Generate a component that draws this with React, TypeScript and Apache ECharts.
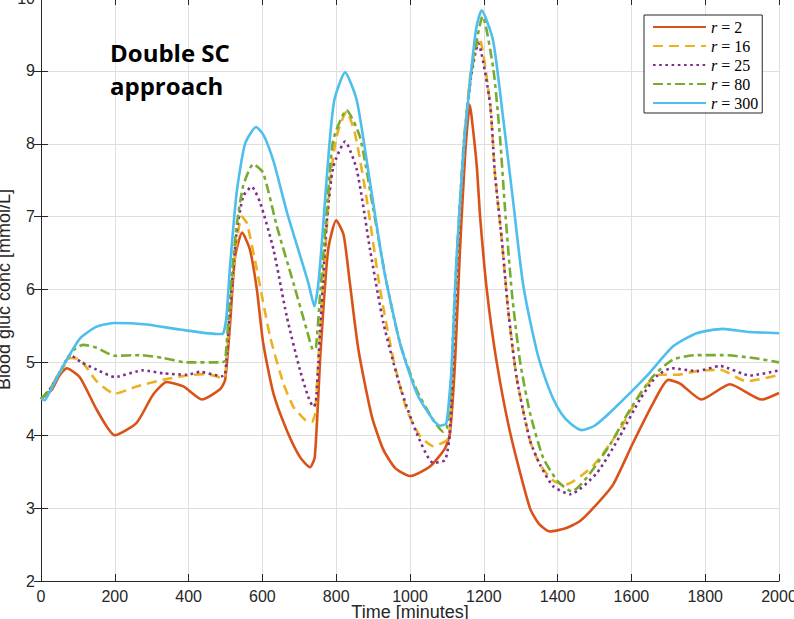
import React, { useEffect, useRef } from "react";
import * as echarts from "echarts";

// ---- data (time in minutes, blood glucose in mmol/L) ----
const xTicks = [0, 200, 400, 600, 800, 1000, 1200, 1400, 1600, 1800, 2000];
const yTicks = [2, 3, 4, 5, 6, 7, 8, 9, 10];

const tR2 = [0, 30, 50, 70, 106, 151, 200, 259, 304, 341, 386, 436, 485, 499, 512, 526, 545, 566, 585, 602, 630, 666, 702, 729, 742, 758, 778, 800, 820, 837, 860, 896, 927, 960, 1000, 1054, 1095, 1108, 1122, 1135, 1150, 1162, 1167, 1181, 1190, 1208, 1235, 1273, 1325, 1350, 1379, 1420, 1460, 1500, 1550, 1604, 1659, 1700, 1732, 1790, 1867, 1953, 2000];
const gR2 = [4.5, 4.63, 4.82, 4.92, 4.79, 4.35, 4.0, 4.17, 4.56, 4.73, 4.67, 4.49, 4.63, 4.76, 5.5, 6.45, 6.78, 6.55, 6.0, 5.27, 4.57, 4.07, 3.7, 3.56, 3.7, 5.18, 6.54, 6.95, 6.75, 6.09, 5.18, 4.27, 3.81, 3.55, 3.44, 3.57, 3.82, 4.02, 5.0, 6.5, 7.9, 8.53, 8.37, 7.69, 7.0, 6.0, 5.0, 4.0, 3.0, 2.78, 2.68, 2.72, 2.82, 3.02, 3.32, 3.89, 4.44, 4.76, 4.71, 4.49, 4.7, 4.49, 4.58];

const tR16 = [0, 24, 60, 79, 106, 151, 200, 259, 331, 395, 449, 490, 499, 512, 530, 544, 558, 585, 621, 657, 684, 716, 734, 743, 749, 765, 783, 801, 828, 851, 883, 919, 955, 991, 1027, 1063, 1099, 1108, 1120, 1133, 1147, 1165, 1188, 1217, 1230, 1249, 1266, 1289, 1325, 1352, 1388, 1420, 1496, 1569, 1631, 1677, 1723, 1777, 1840, 1912, 2000];
const gR16 = [4.5, 4.63, 4.93, 5.06, 5.04, 4.74, 4.57, 4.67, 4.76, 4.82, 4.84, 4.79, 4.8, 5.72, 6.64, 7.0, 6.91, 6.27, 5.35, 4.71, 4.39, 4.21, 4.18, 4.3, 4.8, 6.09, 7.45, 8.1, 8.44, 8.14, 7.23, 6.0, 5.04, 4.35, 3.99, 3.85, 3.93, 4.1, 5.5, 6.9, 8.0, 9.0, 9.45, 8.55, 7.6, 6.67, 5.72, 4.79, 3.93, 3.6, 3.38, 3.32, 3.58, 4.08, 4.63, 4.83, 4.83, 4.88, 4.9, 4.74, 4.83];

const tR25 = [0, 24, 60, 79, 110, 151, 200, 277, 331, 395, 431, 490, 499, 512, 530, 548, 571, 594, 630, 666, 702, 724, 738, 745, 756, 774, 792, 824, 856, 892, 928, 973, 1018, 1063, 1095, 1108, 1120, 1133, 1147, 1165, 1185, 1217, 1230, 1249, 1266, 1289, 1325, 1352, 1388, 1434, 1506, 1569, 1623, 1668, 1709, 1777, 1840, 1921, 2000];
const gR25 = [4.5, 4.63, 4.95, 5.1, 5.0, 4.9, 4.8, 4.89, 4.85, 4.83, 4.87, 4.81, 4.83, 5.72, 6.78, 7.28, 7.41, 7.19, 6.55, 5.63, 4.89, 4.53, 4.39, 4.45, 5.4, 6.9, 7.68, 8.03, 7.64, 6.54, 5.54, 4.67, 4.03, 3.62, 3.66, 4.02, 5.5, 6.9, 8.0, 8.9, 9.38, 8.55, 7.6, 6.67, 5.72, 4.79, 3.93, 3.6, 3.3, 3.19, 3.48, 3.99, 4.49, 4.81, 4.92, 4.88, 4.95, 4.82, 4.89];

const tR80 = [0, 24, 60, 88, 115, 151, 200, 268, 331, 395, 490, 499, 512, 530, 548, 575, 602, 639, 684, 720, 738, 745, 756, 774, 792, 828, 864, 901, 937, 973, 1018, 1063, 1090, 1100, 1110, 1120, 1133, 1147, 1167, 1197, 1226, 1244, 1257, 1276, 1298, 1325, 1361, 1402, 1438, 1533, 1596, 1659, 1713, 1777, 1848, 1930, 2000];
const gR80 = [4.5, 4.63, 4.95, 5.17, 5.24, 5.2, 5.09, 5.1, 5.06, 5.0, 5.0, 5.02, 5.9, 6.87, 7.42, 7.72, 7.6, 6.87, 6.09, 5.45, 5.17, 5.2, 5.9, 7.05, 8.05, 8.46, 8.1, 7.09, 6.08, 5.26, 4.62, 4.21, 4.05, 4.1, 4.6, 5.8, 7.0, 8.1, 9.0, 9.75, 9.02, 8.08, 7.14, 5.96, 5.02, 4.31, 3.69, 3.36, 3.23, 3.8, 4.35, 4.81, 5.04, 5.1, 5.1, 5.06, 5.0];

const tR300 = [0, 10, 24, 60, 106, 151, 200, 286, 377, 476, 492, 502, 512, 530, 553, 583, 603, 630, 666, 700, 725, 741, 752, 765, 780, 795, 824, 856, 892, 928, 973, 1018, 1063, 1081, 1098, 1106, 1113, 1125, 1136, 1149, 1167, 1180, 1194, 1225, 1252, 1279, 1306, 1343, 1365, 1388, 1410, 1435, 1465, 1500, 1550, 1641, 1713, 1777, 1848, 1912, 2000];
const gR300 = [4.5, 4.48, 4.6, 4.95, 5.33, 5.49, 5.54, 5.52, 5.45, 5.39, 5.39, 5.6, 6.3, 7.32, 8.0, 8.23, 8.12, 7.76, 7.07, 6.5, 6.08, 5.77, 6.1, 6.9, 7.9, 8.6, 8.98, 8.59, 7.46, 6.31, 5.26, 4.58, 4.21, 4.13, 4.16, 4.5, 4.95, 6.32, 7.23, 8.15, 9.06, 9.6, 9.83, 9.42, 8.37, 7.23, 6.09, 5.17, 4.8, 4.5, 4.3, 4.16, 4.07, 4.13, 4.35, 4.81, 5.22, 5.4, 5.46, 5.42, 5.4];

const seriesNames = ["r = 2", "r = 16", "r = 25", "r = 80", "r = 300"];
const seriesTimes = [tR2, tR16, tR25, tR80, tR300];
const seriesValues = [gR2, gR16, gR25, gR80, gR300];
const seriesColors = ["#D95319", "#EDB120", "#7E2F8E", "#77AC30", "#4DBEEE"];
const seriesDash: any[] = ["solid", [10, 6], [2.6, 3.6], [10, 4, 4, 4], "solid"];

const AX = "#262626";
const SANS = '"Liberation Sans", Arial, Helvetica, sans-serif';
const SERIF = '"Liberation Serif", "DejaVu Serif", serif';
const TITLE_FONT = 'bold 24px "Open Sans", sans-serif';

export default function App() {
  const ref = useRef<HTMLDivElement>(null);
  useEffect(() => {
    if (!ref.current) return;
    const chart = echarts.init(ref.current, null, { renderer: "svg" });
    const series = seriesNames.map((name, i) => ({
      name,
      type: "line",
      data: seriesTimes[i].map((t, k) => [t, seriesValues[i][k]]),
      showSymbol: false,
      symbol: "none",
      smooth: 0.2,
      lineStyle: { color: seriesColors[i], width: 2.6, type: seriesDash[i], cap: "butt" },
      itemStyle: { color: seriesColors[i] },
      z: 2 + i,
    }));
    const option: any = {
      animation: false,
      backgroundColor: "#ffffff",
      grid: { left: 41, right: 15, top: -2, bottom: 38, containLabel: false, outerBoundsMode: "none" },
      xAxis: [
        {
          type: "value",
          min: 0,
          max: 2000,
          interval: 200,
          position: "bottom",
          name: "Time [minutes]",
          nameLocation: "middle",
          nameGap: 22,
          nameMoveOverlap: false,
          nameTextStyle: { fontFamily: SANS, fontSize: 18, color: AX },
          axisLine: { show: true, lineStyle: { color: AX, width: 1 } },
          axisTick: { show: true, inside: true, length: 7, lineStyle: { color: AX } },
          axisLabel: { fontFamily: SANS, fontSize: 16, color: AX, margin: 7, hideOverlap: false, formatter: (v: number) => (xTicks.includes(v) ? String(v) : "") },
          splitLine: { show: true, lineStyle: { color: "#dfdfdf", width: 1 } },
        },
        {
          type: "value",
          min: 0,
          max: 2000,
          interval: 200,
          position: "top",
          axisLine: { show: true, lineStyle: { color: AX, width: 1 } },
          axisTick: { show: true, inside: true, length: 7, lineStyle: { color: AX } },
          axisLabel: { show: false },
          splitLine: { show: false },
        },
      ],
      yAxis: [
        {
          type: "value",
          min: 2,
          max: 10,
          interval: 1,
          position: "left",
          name: "Blood gluc conc [mmol/L]",
          nameLocation: "middle",
          nameGap: 28,
          nameMoveOverlap: false,
          nameTextStyle: { fontFamily: SANS, fontSize: 18, color: AX },
          axisLine: { show: true, lineStyle: { color: AX, width: 1 } },
          axisTick: { show: true, inside: true, length: 7, lineStyle: { color: AX } },
          axisLabel: { fontFamily: SANS, fontSize: 16, color: AX, margin: 6, formatter: (v: number) => (yTicks.includes(v) ? String(v) : "") },
          splitLine: { show: true, lineStyle: { color: "#dfdfdf", width: 1 } },
        },
        {
          type: "value",
          min: 2,
          max: 10,
          interval: 1,
          position: "right",
          axisLine: { show: true, lineStyle: { color: AX, width: 1 } },
          axisTick: { show: true, inside: true, length: 7, lineStyle: { color: AX } },
          axisLabel: { show: false },
          splitLine: { show: false },
        },
      ],
      legend: {
        data: seriesNames,
        orient: "vertical",
        left: 644,
        top: 15,
        padding: [4, 4, 2, 8],
        itemWidth: 53,
        itemHeight: 14,
        itemGap: 3,
        borderColor: AX,
        borderWidth: 1,
        backgroundColor: "#ffffff",
        borderRadius: 0,
        itemStyle: { opacity: 0 },
        formatter: (name: string) => `{i|r}{n| = ${name.split("= ")[1]}}`,
        textStyle: {
          color: "#000",
          lineHeight: 14,
          rich: {
            i: { fontFamily: SERIF, fontStyle: "italic", fontSize: 16, lineHeight: 14, color: "#000" },
            n: { fontFamily: SERIF, fontSize: 16, lineHeight: 14, color: "#000" },
          },
        },
      },
      graphic: [
        {
          type: "text",
          left: 110,
          top: 37,
          z: 10,
          style: { text: "Double SC", font: TITLE_FONT, lineHeight: 31, fill: "#000" },
        },
        {
          type: "text",
          left: 110,
          top: 70,
          z: 10,
          style: { text: "approach", font: TITLE_FONT, lineHeight: 31, fill: "#000" },
        },
      ],
      series,
    };
    chart.setOption(option);
    return () => chart.dispose();
  }, []);
  return <div ref={ref} style={{ width: 794, height: 619, position: "absolute", left: 0, top: 0 }} />;
}
